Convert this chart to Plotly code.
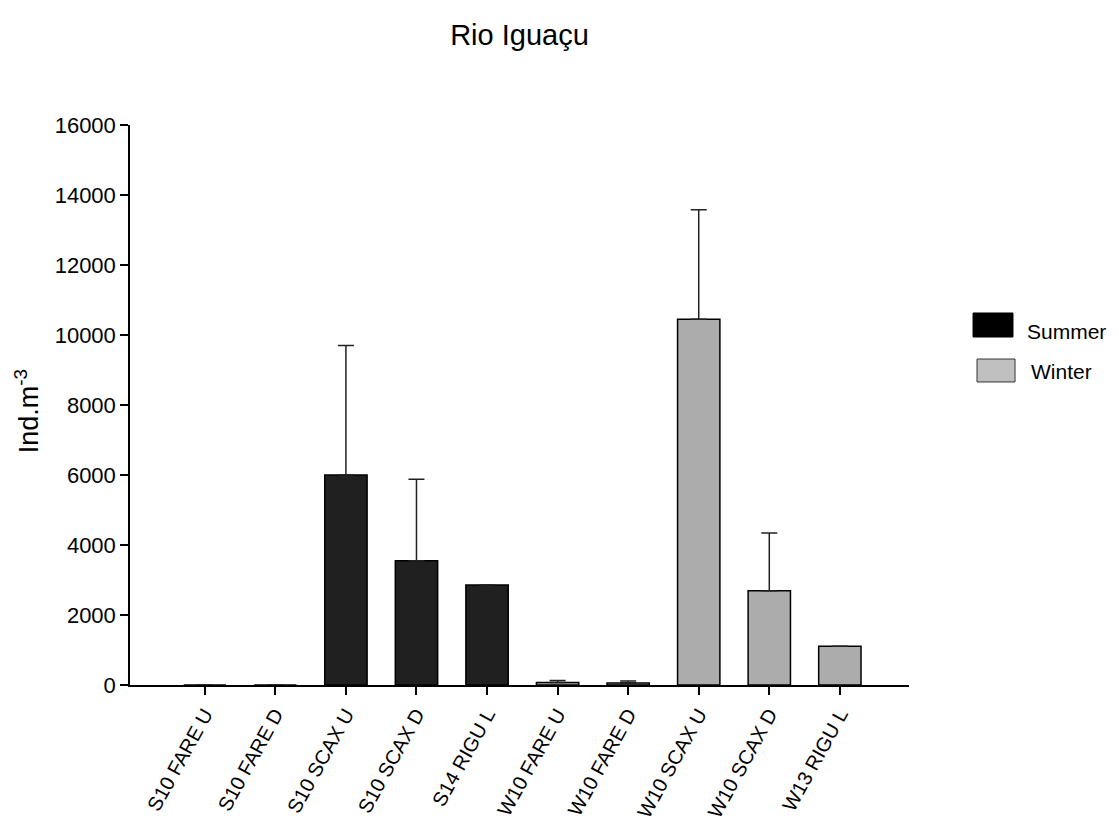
import plotly.graph_objects as go

# ---- data ----
categories = ["S10 FARE U", "S10 FARE D", "S10 SCAX U", "S10 SCAX D", "S14 RIGU L",
              "W10 FARE U", "W10 FARE D", "W10 SCAX U", "W10 SCAX D", "W13 RIGU L"]
summer_idx = [0, 1, 2, 3, 4]
summer_mean = [0, 0, 6000, 3550, 2860]
summer_err = [0, 0, 3700, 2330, 0]
winter_idx = [5, 6, 7, 8, 9]
winter_mean = [70, 60, 10450, 2690, 1110]
winter_err = [60, 55, 3130, 1650, 0]
legend_labels = ["Summer", "Winter"]
y_ticks = [0, 2000, 4000, 6000, 8000, 10000, 12000, 14000, 16000]
y_ticktext = [str(v) for v in y_ticks]

FONT = "Liberation Sans, Arial, sans-serif"
SUMMER_FILL = "#202020"
WINTER_FILL = "#acacac"

fig = go.Figure()
fig.add_trace(go.Bar(
    x=summer_idx, y=summer_mean, width=0.6, name=legend_labels[0],
    marker=dict(color=SUMMER_FILL, line=dict(color="#000000", width=1.5)),
    error_y=dict(type="data", symmetric=False, array=summer_err,
                 arrayminus=[0] * len(summer_err), color="#222222",
                 thickness=1.5, width=8),
    showlegend=False,
))
fig.add_trace(go.Bar(
    x=winter_idx, y=winter_mean, width=0.6, name=legend_labels[1],
    marker=dict(color=WINTER_FILL, line=dict(color="#000000", width=1.5)),
    error_y=dict(type="data", symmetric=False, array=winter_err,
                 arrayminus=[0] * len(winter_err), color="#222222",
                 thickness=1.5, width=8),
    showlegend=False,
))

# custom legend (decoration)
fig.add_shape(type="rect", xref="paper", yref="paper",
              x0=1.0822, x1=1.1335, y0=0.6214, y1=0.6643,
              fillcolor="#000000", line=dict(color="#000000", width=1))
fig.add_shape(type="rect", xref="paper", yref="paper",
              x0=1.0873, x1=1.1361, y0=0.5411, y1=0.5821,
              fillcolor="#c0c0c0", line=dict(color="#333333", width=1))
fig.add_annotation(xref="paper", yref="paper", x=1.1489, y=0.6321,
                   text=legend_labels[0], showarrow=False, xanchor="left",
                   yanchor="middle", font=dict(family=FONT, size=21, color="#000"))
fig.add_annotation(xref="paper", yref="paper", x=1.1541, y=0.5607,
                   text=legend_labels[1], showarrow=False, xanchor="left",
                   yanchor="middle", font=dict(family=FONT, size=21, color="#000"))

# y axis title
fig.add_annotation(xref="paper", yref="paper", x=-0.132, y=0.489,
                   text="Ind.m<sup>-3</sup>", textangle=-90, showarrow=False,
                   xanchor="center", yanchor="middle",
                   font=dict(family=FONT, size=27, color="#000"))

fig.update_layout(
    width=1119, height=826,
    margin=dict(l=130, r=210, t=125, b=141, autoexpand=False),
    paper_bgcolor="white", plot_bgcolor="white",
    font=dict(family=FONT, color="#000"),
    title=dict(text="Rio Iguaçu", x=0.5, xref="paper", y=1 - 35 / 826,
               yref="container", xanchor="center", yanchor="middle",
               font=dict(family=FONT, size=29, color="#000")),
    barmode="overlay",
    xaxis=dict(range=[-1.06, 9.98], tickmode="array",
               tickvals=list(range(len(categories))), ticktext=categories,
               tickangle=-61, ticks="outside", ticklen=8, tickwidth=1.5,
               tickcolor="#000", showline=True, linecolor="#000", linewidth=1.5,
               showgrid=False, zeroline=False, automargin=False,
               tickfont=dict(family=FONT, size=20, color="#000")),
    yaxis=dict(range=[0, 16000], tickmode="array", tickvals=y_ticks,
               ticktext=y_ticktext,
               ticks="outside", ticklen=8, tickwidth=1.5, tickcolor="#000",
               showline=True, linecolor="#000", linewidth=1.5,
               showgrid=False, zeroline=False, automargin=False,
               tickfont=dict(family=FONT, size=22, color="#000")),
)

fig.write_html("out.html")
